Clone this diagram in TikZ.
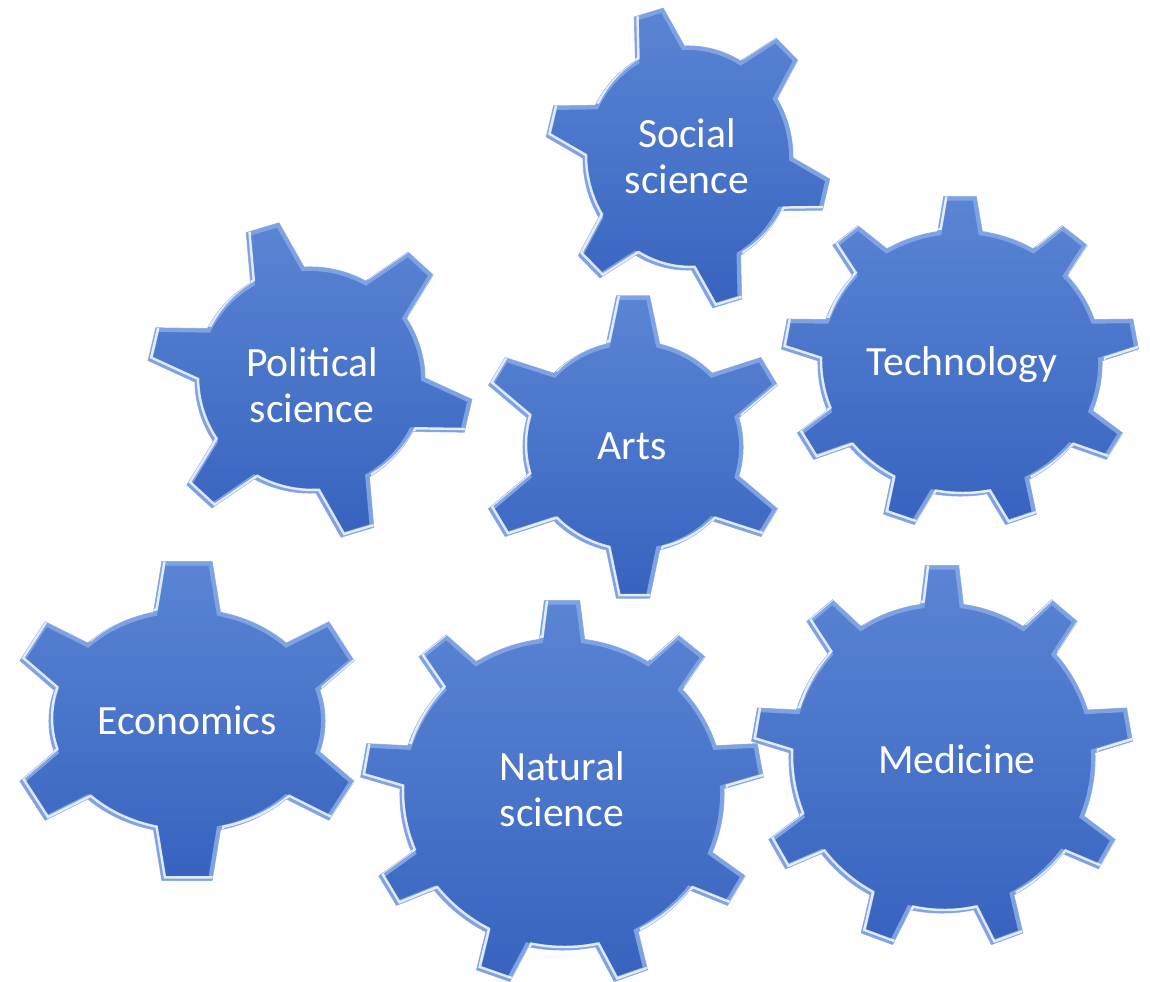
\documentclass[tikz,border=0pt]{standalone}
\usepackage{fontspec}
\setmainfont{Carlito}
\definecolor{geartop}{HTML}{5A85D4}
\definecolor{gearbottom}{HTML}{3763BF}
\definecolor{gearrim}{HTML}{7FA2E2}
\definecolor{gearline}{HTML}{9AB6EA}
\tikzset{x=0.02cm, y=0.02cm}
\tikzset{geartext/.style={text=white, align=center, inner sep=0pt, font=\fontsize{23.7}{26}\selectfont}}
\tikzset{gearbody/.style={top color=geartop, bottom color=gearbottom, draw=gearline, line width=0.6pt}}

% outline of one gear: teeth, body x/y radius, tip x/y radius, base half angle, tip half angle, rotation
\newcommand{\gearpath}[8]{%
  ({#8-#6}:#2 and #3)
  \foreach \k in {1,...,#1}{
    -- ({#8+360*(\k-1)/#1-#7}:#4 and #5) -- ({#8+360*(\k-1)/#1+#7}:#4 and #5)
    -- ({#8+360*(\k-1)/#1+#6}:#2 and #3)
    arc[start angle={#8+360*(\k-1)/#1+#6}, end angle={#8+360*\k/#1-#6}, x radius=#2, y radius=#3]
  } -- cycle}

% centre, then the eight values of \gearpath
\newcommand{\drawgear}[9]{%
  \begin{scope}[shift={(#1)}]
    \path[gearbody] \gearpath{#2}{#3}{#4}{#5}{#6}{#7}{#8}{#9};
    \begin{scope}
      \clip \gearpath{#2}{#3}{#4}{#5}{#6}{#7}{#8}{#9};
      \draw[gearrim, line width=4.5pt] \gearpath{#2}{#3}{#4}{#5}{#6}{#7}{#8}{#9};
      \draw[white, line width=1.4pt, opacity=0.8, shift={(3,3)}] \gearpath{#2}{#3}{#4}{#5}{#6}{#7}{#8}{#9};
    \end{scope}
  \end{scope}}

\begin{document}
\begin{tikzpicture}

    \useasboundingbox (0,0) rectangle (1150,981);

    % Gears
    \drawgear{688,823}{6}{105}{112}{143}{152}{14}{6}{106}
    \drawgear{310,601}{6}{115}{113}{163}{160}{14}{6}{107}
    \drawgear{633,534}{6}{110}{106}{158}{152}{14}{6}{90}
    \drawgear{960,618}{9}{142}{133}{179}{167}{9}{5.2}{90}
    \drawgear{187,260}{6}{138}{112}{180}{161}{14}{8}{90}
    \drawgear{562,187}{9}{162}{156}{202}{194}{8}{5}{90}
    \drawgear{942,223}{9}{153}{155}{191}{193}{8}{5}{90}

    % Labels
    \node [geartext] (social) at (687,825) {Social\\science};
    \node [geartext] (political) at (312,596) {Political\\science};
    \node [geartext] (arts) at (632,535) {Arts};
    \node [geartext] (technology) at (962,616) {Technology};
    \node [geartext] (economics) at (187,261) {Economics};
    \node [geartext] (natural) at (562,192) {Natural\\science};
    \node [geartext] (medicine) at (957,222) {Medicine};

\end{tikzpicture}
\end{document}
